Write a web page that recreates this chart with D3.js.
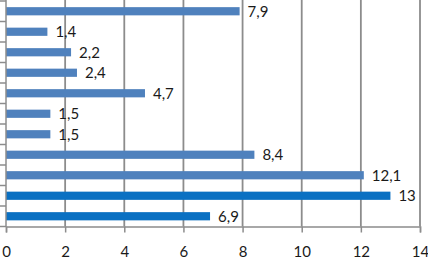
<!DOCTYPE html>
<html>
<head>
<meta charset="utf-8">
<script src="https://cdn.jsdelivr.net/npm/d3@7"></script>
<style>
  body { margin: 0; background: #fff; }
  svg { display: block; }
</style>
</head>
<body>
<svg></svg>
<script>
const width = 428, height = 259;

// categories top to bottom (names not shown in the picture)
const categories = ["c1", "c2", "c3", "c4", "c5", "c6", "c7", "c8", "c9", "c10", "c11"];
const values = [7.9, 1.4, 2.2, 2.4, 4.7, 1.5, 1.5, 8.4, 12.1, 13, 6.9];
const valueLabels = ["7,9", "1,4", "2,2", "2,4", "4,7", "1,5", "1,5", "8,4", "12,1", "13", "6,9"];
const highlight = [false, false, false, false, false, false, false, false, false, true, true];
const xTicks = [0, 2, 4, 6, 8, 10, 12, 14];

const data = categories.map((c, i) => ({cat: c, value: values[i], label: valueLabels[i], hi: highlight[i]}));

const plot = {left: 6, right: 420, top: 1, bottom: 226.5};
const font = "Lato, 'Open Sans', sans-serif";

const svg = d3.select("svg")
    .attr("width", width)
    .attr("height", height);

const x = d3.scaleLinear()
    .domain([0, 14])
    .range([plot.left, plot.right]);

const y = d3.scaleBand()
    .domain(categories)
    .range([plot.top, plot.bottom])
    .paddingInner(0.6)
    .paddingOuter(0.3);

// vertical gridlines
svg.append("g")
    .selectAll("line")
    .data(xTicks.slice(1))
    .enter().append("line")
    .attr("x1", d => x(d))
    .attr("x2", d => x(d))
    .attr("y1", 0)
    .attr("y2", plot.bottom)
    .attr("stroke", "#8c8c8c")
    .attr("stroke-width", 1.8);

// bars
svg.append("g")
    .selectAll("rect")
    .data(data)
    .enter().append("rect")
    .attr("x", x(0))
    .attr("y", d => y(d.cat))
    .attr("width", d => x(d.value) - x(0))
    .attr("height", y.bandwidth())
    .attr("fill", d => d.hi ? "#0a70c2" : "#4f81bd");

// value labels
svg.append("g")
    .selectAll("text")
    .data(data)
    .enter().append("text")
    .attr("x", d => x(d.value) + 8)
    .attr("y", d => y(d.cat) + y.bandwidth() / 2)
    .attr("dy", "0.36em")
    .attr("font-family", font)
    .attr("font-size", "15px")
    .attr("fill", "#1a1a1a")
    .text(d => d.label);

// x axis
const xAxis = d3.axisBottom(x)
    .tickValues(xTicks)
    .tickSize(6)
    .tickPadding(14)
    .tickFormat(d3.format("d"));

const gx = svg.append("g")
    .attr("transform", `translate(0, ${plot.bottom})`)
    .call(xAxis);
gx.select(".domain").attr("stroke", "#8c8c8c").attr("stroke-width", 1.5);
gx.selectAll(".tick line").attr("stroke", "#8c8c8c").attr("stroke-width", 1.5);
gx.selectAll("text")
    .attr("font-family", font)
    .attr("font-size", "15px")
    .attr("fill", "#1a1a1a");

// y axis line with ticks at category boundaries
const step = y.step();
const boundaries = categories.map(c => y(c) - step * y.paddingInner() / 2).concat([plot.bottom]);
svg.append("line")
    .attr("x1", plot.left).attr("x2", plot.left)
    .attr("y1", 0).attr("y2", plot.bottom)
    .attr("stroke", "#8c8c8c").attr("stroke-width", 1.5);
svg.append("g")
    .selectAll("line")
    .data(boundaries)
    .enter().append("line")
    .attr("x1", 0).attr("x2", plot.left)
    .attr("y1", d => d).attr("y2", d => d)
    .attr("stroke", "#8c8c8c").attr("stroke-width", 1.5);
</script>
</body>
</html>
